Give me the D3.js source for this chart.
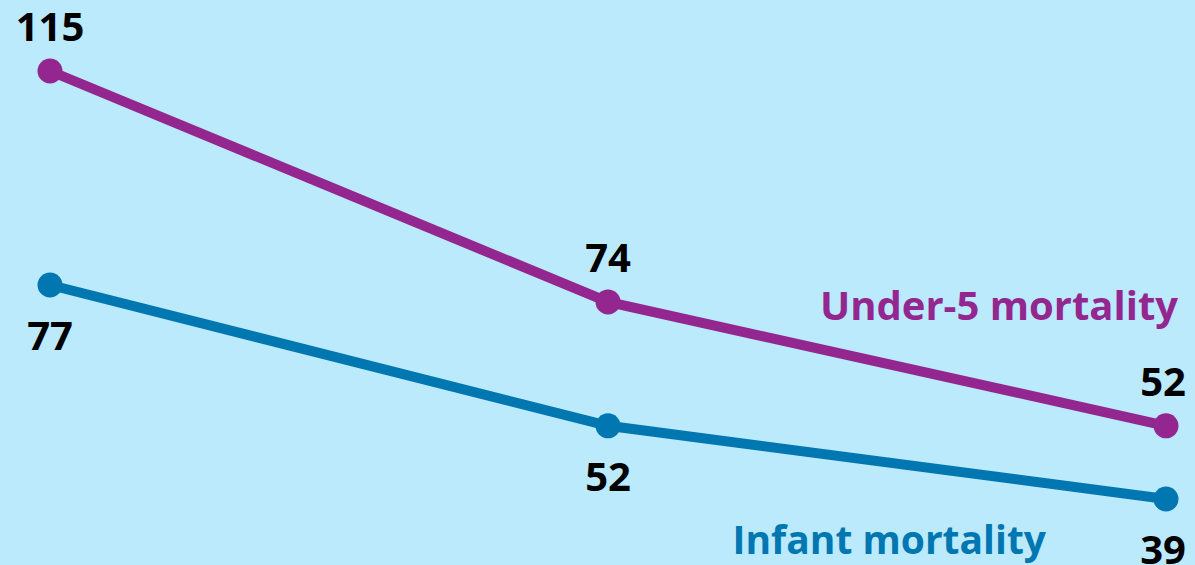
<!DOCTYPE html>
<html>
<head>
<meta charset="utf-8">
<script src="https://cdn.jsdelivr.net/npm/d3@7"></script>
<style>
  html, body { margin: 0; padding: 0; background: #bbeafd; }
  svg { display: block; }
</style>
</head>
<body>
<svg id="chart" width="1195" height="565"></svg>
<script>
// three time points
var periods = ["p1", "p2", "p3"];
var under5 = [115, 74, 52];
var infant = [77, 52, 39];

var svg = d3.select('#chart');
var W = 1195, H = 565;

svg.append('rect')
    .attr('width', W)
    .attr('height', H)
    .attr('fill', '#bbeafd');

var x = d3.scalePoint()
    .domain(periods)
    .range([50, 1166]);

var y = d3.scaleLinear()
    .domain([39, 115])
    .range([499, 71]);

var series = [
    { name: 'Under-5 mortality', values: under5, color: '#93278f', labelDy: -30, nameX: 1178, nameY: 320, nameSize: 40 },
    { name: 'Infant mortality', values: infant, color: '#0077b0', labelDy: 65, nameX: 1046, nameY: 554, nameSize: 39 }
];

var line = d3.line()
    .x(function(d, i) { return x(periods[i]); })
    .y(function(d) { return y(d); });

series.forEach(function(s) {
    var g = svg.append('g');

    g.append('path')
        .attr('d', line(s.values))
        .attr('fill', 'none')
        .attr('stroke', s.color)
        .attr('stroke-width', 10);

    g.selectAll('circle')
        .data(s.values)
        .enter().append('circle')
        .attr('cx', function(d, i) { return x(periods[i]); })
        .attr('cy', function(d) { return y(d); })
        .attr('r', 12.5)
        .attr('fill', s.color);

    g.selectAll('text.val')
        .data(s.values)
        .enter().append('text')
        .attr('class', 'val')
        .attr('x', function(d, i) { return x(periods[i]) - (i == 2 ? 3 : 0); })
        .attr('y', function(d) { return y(d) + s.labelDy; })
        .attr('text-anchor', 'middle')
        .style('font-family', '"Open Sans", sans-serif')
        .style('font-weight', 'bold')
        .style('font-size', '40px')
        .attr('fill', '#000')
        .text(function(d) { return d; });

    g.append('text')
        .attr('x', s.nameX)
        .attr('y', s.nameY)
        .attr('text-anchor', 'end')
        .style('font-family', '"Open Sans", sans-serif')
        .style('font-weight', 'bold')
        .style('font-size', s.nameSize + 'px')
        .attr('fill', s.color)
        .text(s.name);
});
</script>
</body>
</html>
